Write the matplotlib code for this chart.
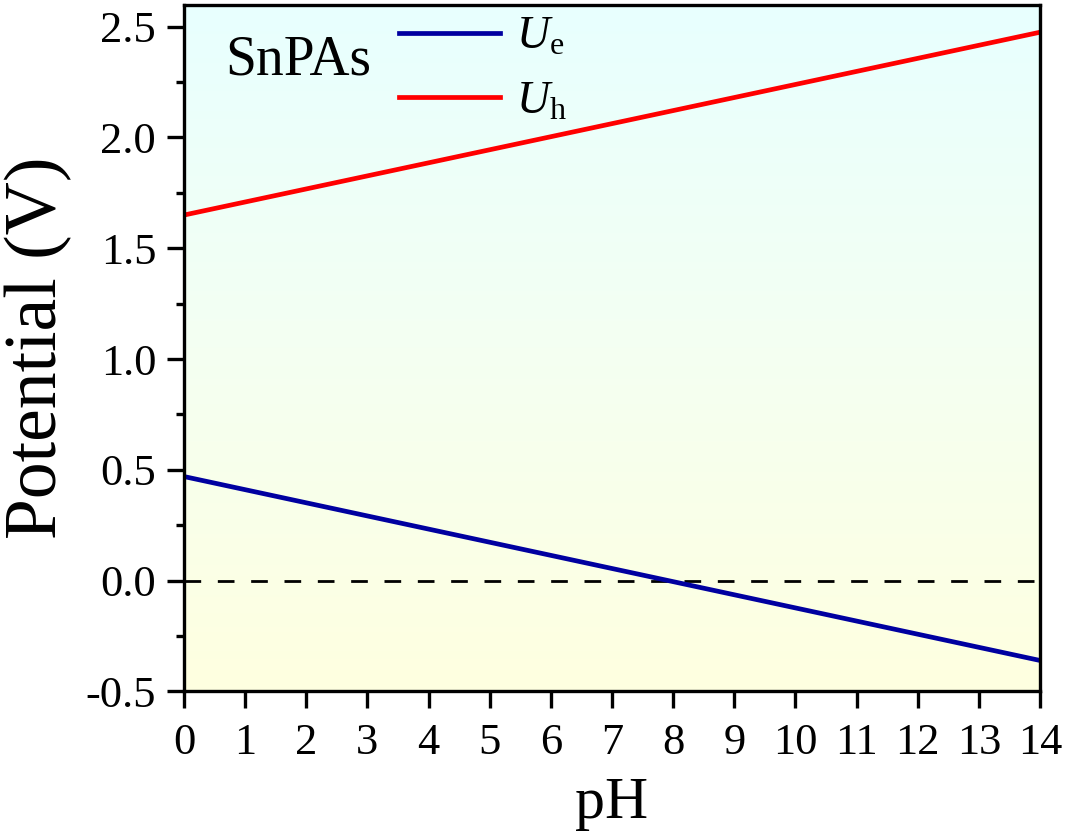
import matplotlib
matplotlib.use('agg')
import matplotlib.pyplot as plt
import numpy as np
from matplotlib.colors import LinearSegmentedColormap
from matplotlib.ticker import MultipleLocator

# data
ph = [0, 14]
u_e = [0.47, -0.36]
u_h = [1.65, 2.475]
x_ticks = list(range(0, 15))
y_ticks = [-0.5, 0.0, 0.5, 1.0, 1.5, 2.0, 2.5]
y_tick_labels = ['-0.5', '0.0', '0.5', '1.0', '1.5', '2.0', '2.5']

plt.rcParams['font.family'] = ['Liberation Serif', 'DejaVu Serif']
plt.rcParams['mathtext.fontset'] = 'custom'
plt.rcParams['mathtext.rm'] = 'Liberation Serif'
plt.rcParams['mathtext.it'] = 'Liberation Serif:italic'

fig = plt.figure(figsize=(10.66, 8.4), dpi=100)
ax = fig.add_axes([0.1726, 0.1768, 0.8030, 0.8178])

# background gradient: light yellow at bottom to light cyan at top
cmap = LinearSegmentedColormap.from_list('bg', ['#FFFFE0', '#F4FFF2', '#E8FFFF'])
grad = np.linspace(0, 1, 256).reshape(-1, 1)
ax.imshow(grad, cmap=cmap, aspect='auto', origin='lower',
          extent=[0, 1, 0, 1], transform=ax.transAxes, zorder=0)

ax.axhline(0, color='black', lw=2, dashes=(6, 6), zorder=1)
ax.plot(ph, u_e, color='#0000A0', lw=3.4, label=r'$U_\mathrm{e}$', zorder=2)
ax.plot(ph, u_h, color='#FF0000', lw=3.4, label=r'$U_\mathrm{h}$', zorder=2)

ax.set_xlim(0, 14)
ax.set_ylim(-0.5, 2.6)
ax.set_xticks(x_ticks)
ax.set_yticks(y_ticks)
ax.set_yticklabels(y_tick_labels)
ax.yaxis.set_minor_locator(MultipleLocator(0.25))

for s in ax.spines.values():
    s.set_linewidth(2.4)
ax.tick_params(axis='both', which='major', direction='out', length=12, width=2.4,
               labelsize=32, top=False, right=False)
ax.tick_params(axis='x', pad=11)
ax.tick_params(axis='y', pad=8)
ax.tick_params(axis='y', which='minor', direction='out', length=6, width=2.4)

ax.set_xlabel('pH', fontsize=43, labelpad=10)
ax.set_ylabel('Potential (V)', fontsize=53, labelpad=10)

ax.text(0.048, 0.918, 'SnPAs', transform=ax.transAxes, fontsize=40,
        ha='left', va='center')

leg = ax.legend(loc='upper left', bbox_to_anchor=(0.203, 1.043), frameon=False,
                fontsize=33, handlelength=2.2, handletextpad=0.35,
                labelspacing=0.48)

fig.savefig('out.png', dpi=100)
plt.close(fig)
